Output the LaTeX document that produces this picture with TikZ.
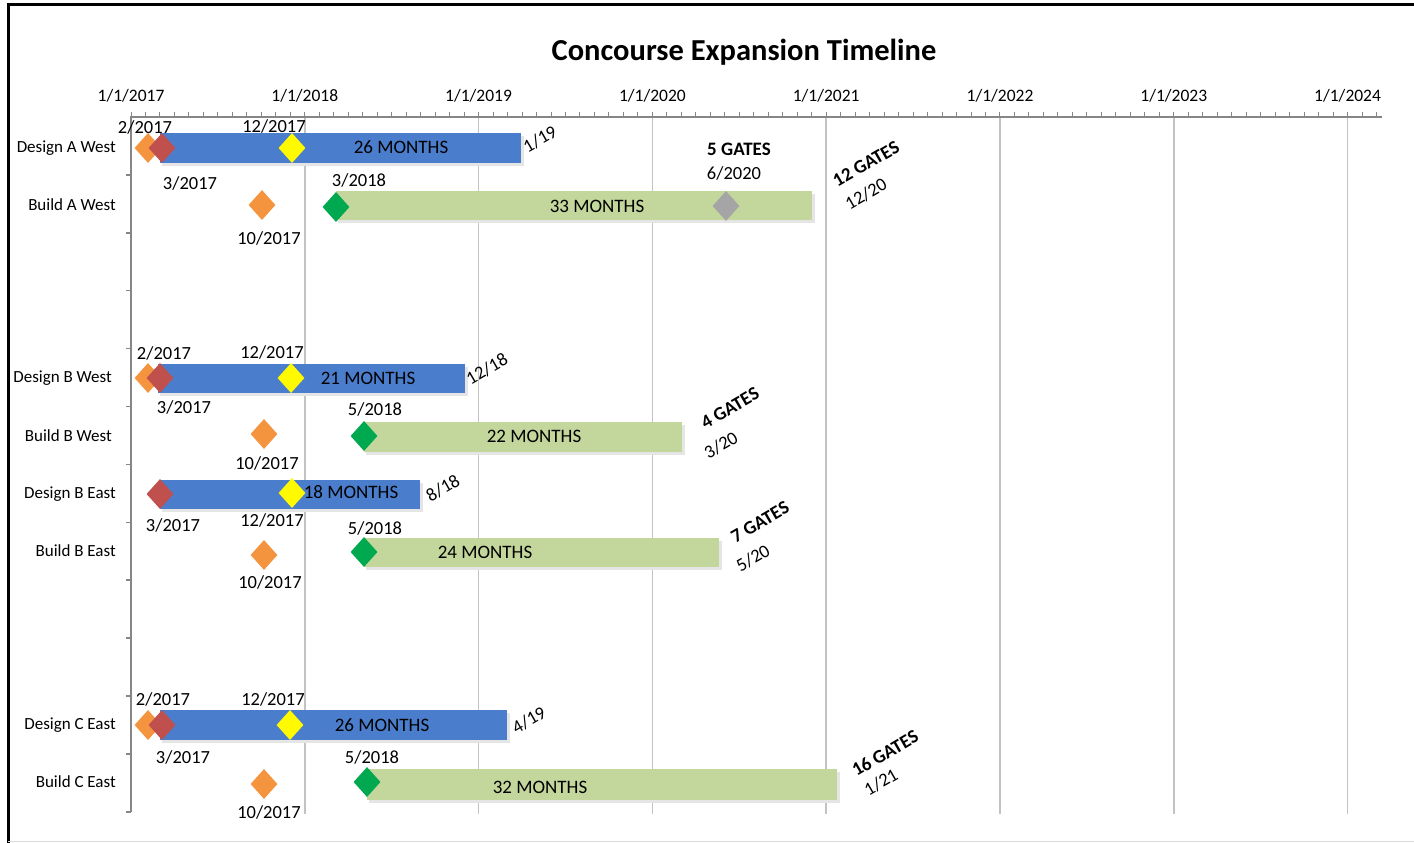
\documentclass[tikz,border=0pt]{standalone}
\usepackage{fontspec}
\setmainfont{Carlito}
\usetikzlibrary{shapes.geometric}

\definecolor{barblue}{RGB}{74,126,205}
\definecolor{bargreen}{RGB}{195,214,155}
\definecolor{msorange}{RGB}{245,148,62}
\definecolor{msred}{RGB}{192,80,77}
\definecolor{msyellow}{RGB}{255,250,0}
\definecolor{msgreen}{RGB}{0,168,80}
\definecolor{msgray}{RGB}{165,165,165}
\definecolor{gridgray}{RGB}{195,195,195}
\definecolor{axisgray}{RGB}{134,134,134}

\begin{document}
\begin{tikzpicture}[x=1pt,y=-1pt,
	designbar/.style={fill=barblue},
	buildbar/.style={fill=bargreen},
	barshadow/.style={fill=black!10},
	mstone/.style={diamond, inner sep=0pt, minimum width=27pt, minimum height=30pt},
	rowlabel/.style={anchor=east, inner sep=1pt, font=\fontsize{17}{20}\selectfont},
	datelabel/.style={inner sep=0pt, font=\fontsize{18.5}{20}\selectfont},
	barlabel/.style={inner sep=0pt, font=\fontsize{19}{20}\selectfont},
	gatelabel/.style={inner sep=0pt, font=\bfseries\fontsize{19}{20}\selectfont},
	enddate/.style={inner sep=0pt, rotate=30, font=\fontsize{18.5}{20}\selectfont},
	yearlabel/.style={font=\fontsize{17.5}{20}\selectfont},
	gridline/.style={draw=gridgray, line width=1.5pt},
	axisline/.style={draw=axisgray, line width=2.5pt}
]

	\useasboundingbox (0,0) rectangle (1414,843);
	\draw[line width=3pt] (8,843) -- (8,5) -- (1414,5);
	\draw[black!15, line width=1pt] (8,841) -- (1414,841);

	\node (title) at (744,52) [font=\bfseries\fontsize{30.5}{32}\selectfont] {Concourse Expansion Timeline};

	\foreach \i in {1,...,7}
		\draw[gridline] ({131+173.8*\i},117) -- ({131+173.8*\i},814);
	\foreach \yr [count=\i from 0] in {2017,...,2024}
		\node (yr\yr) at ({131+173.8*\i},96) [yearlabel] {1/1/\yr};
	\foreach \m in {0,...,86}
		\draw[axisgray, line width=1pt] ({131+\m*14.483},117) -- ++(0,-5);
	\draw[axisline] (130,117) -- (1382,117);
	\draw[axisgray, line width=2pt] (131,117) -- (131,812);
	\foreach \k in {1,...,12}
		\draw[axisgray, line width=1.5pt] (131,{117+57.9*\k}) -- ++(-5,0);

	\node[rowlabel] (rDAW) at (117,148) {Design A West};
	\node[rowlabel] (rBAW) at (117,205) {Build A West};
	\node[rowlabel] (rDBW) at (113,378) {Design B West};
	\node[rowlabel] (rBBW) at (113,436) {Build B West};
	\node[rowlabel] (rDBE) at (117,494) {Design B East};
	\node[rowlabel] (rBBE) at (117,551) {Build B East};
	\node[rowlabel] (rDCE) at (117,725) {Design C East};
	\node[rowlabel] (rBCE) at (117,782) {Build C East};

	\fill[barshadow] (162,136) rectangle (524,166);
	\fill[designbar] (160,133) rectangle (521,163);
	\node[mstone, fill=msorange] (dawPlan) at (148,148) {};
	\node[mstone, fill=msred] (dawStart) at (162,148) {};
	\node[barlabel] (dawDur) at (401,147) {26 MONTHS};
	\node[mstone, fill=msyellow] (dawMid) at (292,148) {};
	\node[datelabel] (dawPlanDate) at (145,127) {2/2017};
	\node[datelabel] (dawMidDate) at (274,126) {12/2017};
	\node[datelabel] (dawStartDate) at (190,183) {3/2017};
	\node[enddate] (dawEnd) at (540,139) {1/19};

	\fill[barshadow] (338,194) rectangle (815,223);
	\fill[buildbar] (336,191) rectangle (812,220);
	\node[mstone, fill=msorange] (bawPlan) at (262,205) {};
	\node[mstone, fill=msgreen] (bawStart) at (336,207) {};
	\node[mstone, fill=msgray] (bawMid) at (726,206) {};
	\node[barlabel] (bawDur) at (597,206) {33 MONTHS};
	\node[datelabel] (bawPlanDate) at (269,238) {10/2017};
	\node[datelabel] (bawStartDate) at (359,180) {3/2018};
	\node[gatelabel] (bawMidGates) at (739,149) {5 GATES};
	\node[datelabel] (bawMidDate) at (734,173) {6/2020};
	\node[gatelabel, rotate=30] (bawGates) at (866,164) {12 GATES};
	\node[enddate] (bawEnd) at (866,194) {12/20};

	\fill[barshadow] (160,367) rectangle (468,396);
	\fill[designbar] (158,364) rectangle (465,393);
	\node[mstone, fill=msorange] (dbwPlan) at (148,378) {};
	\node[mstone, fill=msred] (dbwStart) at (160,378) {};
	\node[barlabel] (dbwDur) at (368,378) {21 MONTHS};
	\node[mstone, fill=msyellow] (dbwMid) at (291,378) {};
	\node[datelabel] (dbwPlanDate) at (164,353) {2/2017};
	\node[datelabel] (dbwMidDate) at (272,352) {12/2017};
	\node[datelabel] (dbwStartDate) at (184,407) {3/2017};
	\node[enddate] (dbwEnd) at (487,369) {12/18};

	\fill[barshadow] (366,425) rectangle (685,455);
	\fill[buildbar] (364,422) rectangle (682,452);
	\node[mstone, fill=msorange] (bbwPlan) at (264,434) {};
	\node[mstone, fill=msgreen] (bbwStart) at (364,436) {};
	\node[barlabel] (bbwDur) at (534,436) {22 MONTHS};
	\node[datelabel] (bbwPlanDate) at (267,463) {10/2017};
	\node[datelabel] (bbwStartDate) at (375,409) {5/2018};
	\node[gatelabel, rotate=30] (bbwGates) at (730,408) {4 GATES};
	\node[enddate] (bbwEnd) at (721,445) {3/20};

	\fill[barshadow] (162,483) rectangle (423,512);
	\fill[designbar] (160,480) rectangle (420,509);
	\node[mstone, fill=msred] (dbeStart) at (160,494) {};
	\node[barlabel] (dbeDur) at (351,492) {18 MONTHS};
	\node[mstone, fill=msyellow] (dbeMid) at (292,493) {};
	\node[datelabel] (dbeStartDate) at (173,525) {3/2017};
	\node[datelabel] (dbeMidDate) at (272,520) {12/2017};
	\node[enddate] (dbeEnd) at (443,488) {8/18};

	\fill[barshadow] (366,541) rectangle (722,570);
	\fill[buildbar] (364,538) rectangle (719,567);
	\node[mstone, fill=msorange] (bbePlan) at (264,555) {};
	\node[mstone, fill=msgreen] (bbeStart) at (364,552) {};
	\node[barlabel] (bbeDur) at (485,552) {24 MONTHS};
	\node[datelabel] (bbePlanDate) at (270,582) {10/2017};
	\node[datelabel] (bbeStartDate) at (375,528) {5/2018};
	\node[gatelabel, rotate=30] (bbeGates) at (760,522) {7 GATES};
	\node[enddate] (bbeEnd) at (753,558) {5/20};

	\fill[barshadow] (162,713) rectangle (510,743);
	\fill[designbar] (160,710) rectangle (507,740);
	\node[mstone, fill=msorange] (dcePlan) at (148,725) {};
	\node[mstone, fill=msred] (dceStart) at (162,725) {};
	\node[barlabel] (dceDur) at (382,725) {26 MONTHS};
	\node[mstone, fill=msyellow] (dceMid) at (290,725) {};
	\node[datelabel] (dcePlanDate) at (163,699) {2/2017};
	\node[datelabel] (dceMidDate) at (273,699) {12/2017};
	\node[datelabel] (dceStartDate) at (183,757) {3/2017};
	\node[enddate] (dceEnd) at (529,720) {4/19};

	\fill[barshadow] (369,772) rectangle (840,803);
	\fill[buildbar] (367,769) rectangle (837,800);
	\node[mstone, fill=msorange] (bcePlan) at (264,784) {};
	\node[mstone, fill=msgreen] (bceStart) at (367,782) {};
	\node[barlabel] (bceDur) at (540,787) {32 MONTHS};
	\node[datelabel] (bcePlanDate) at (269,812) {10/2017};
	\node[datelabel] (bceStartDate) at (372,757) {5/2018};
	\node[gatelabel, rotate=30] (bceGates) at (885,753) {16 GATES};
	\node[enddate] (bceEnd) at (881,782) {1/21};
\end{tikzpicture}
\end{document}
